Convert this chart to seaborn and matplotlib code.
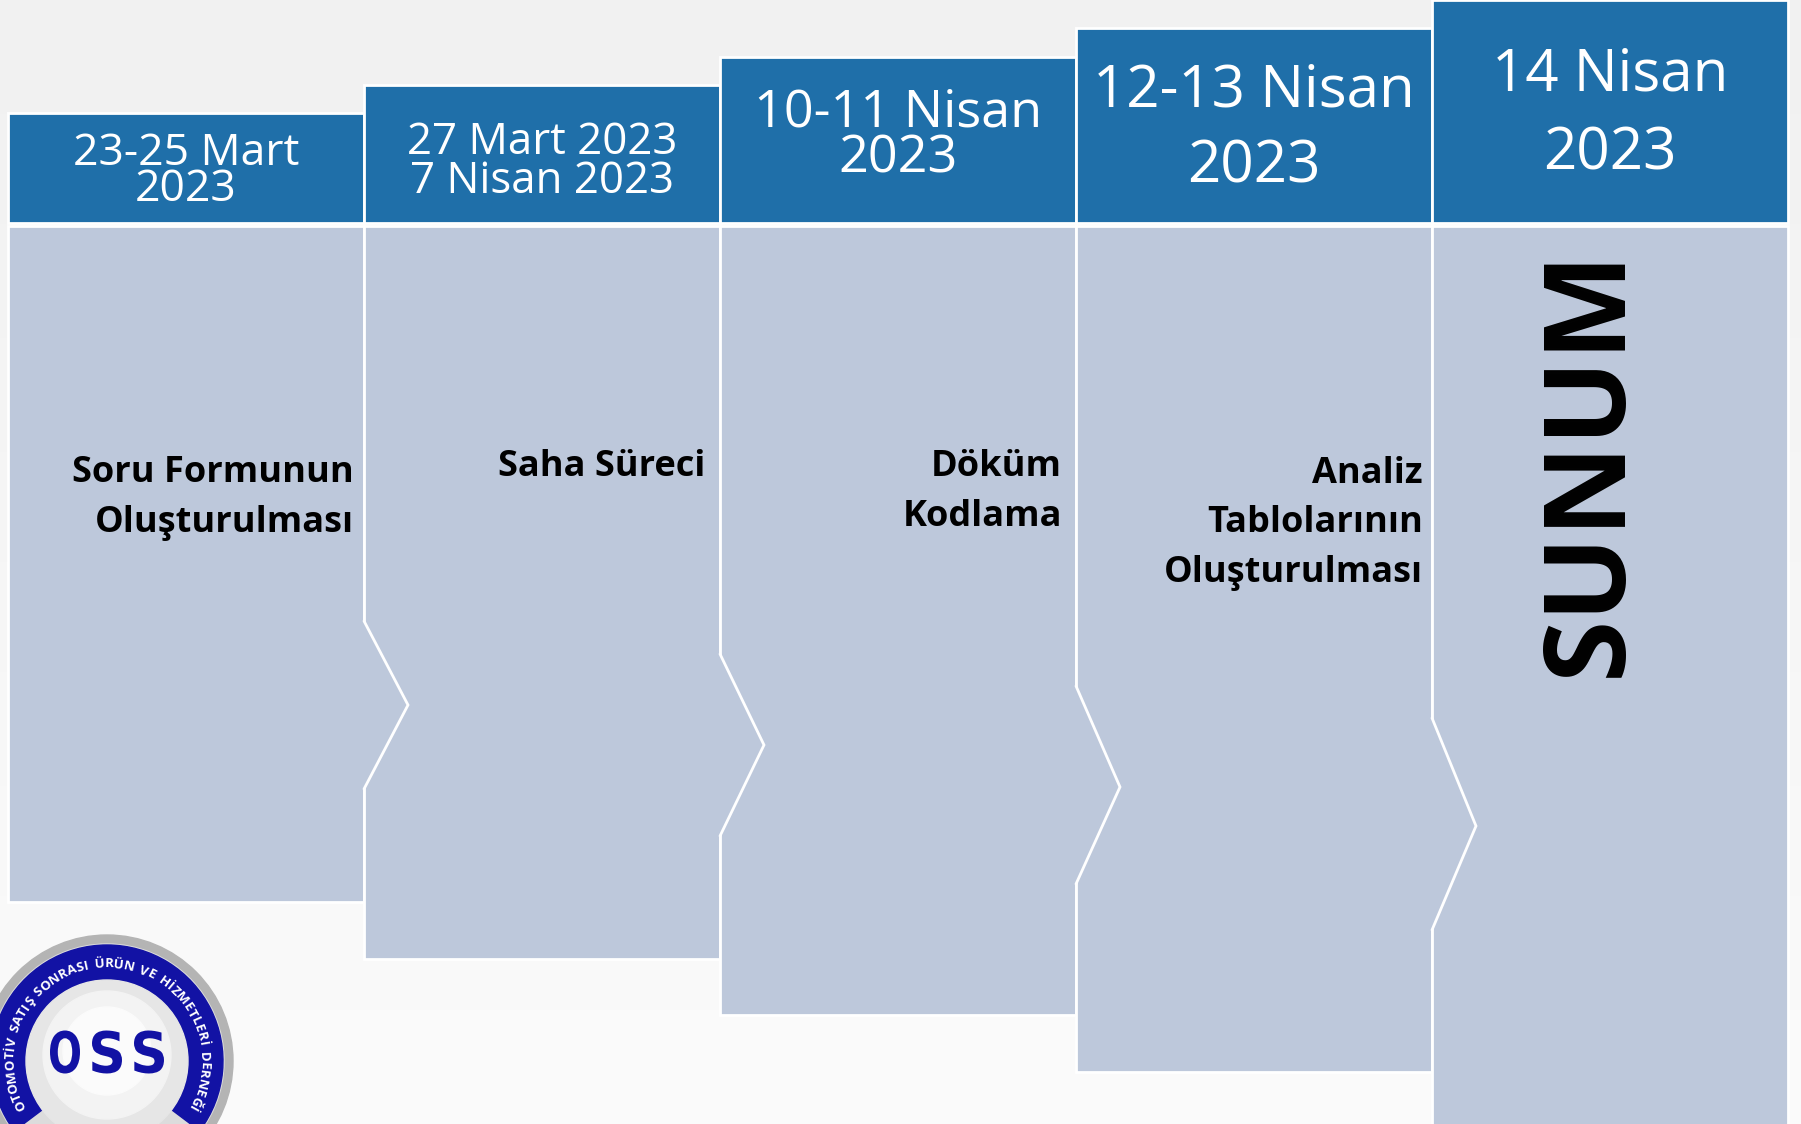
import numpy as np
import matplotlib
matplotlib.use("Agg")
import matplotlib.pyplot as plt
import seaborn as sns
from matplotlib.patches import Circle, Wedge, Polygon, PathPatch
from matplotlib.colors import LinearSegmentedColormap
from matplotlib.textpath import TextPath, TextToPath
from matplotlib.font_manager import FontProperties
from matplotlib.transforms import Affine2D

# Timeline content
dates = ["23-25 Mart\n2023", "27 Mart 2023\n7 Nisan 2023", "10-11 Nisan\n2023",
         "12-13 Nisan\n2023", "14 Nisan\n2023"]
tasks = ["Soru Formunun\nOluşturulması", "Saha Süreci", "Döküm\nKodlama",
         "Analiz\nTablolarının\nOluşturulması", "SUNUM"]
stage = np.arange(len(dates))
logo_ring_text = "OTOMOTİV SATIŞ SONRASI ÜRÜN VE HİZMETLERİ DERNEĞİ"
logo_title = "OSS"

sns.set_theme(style="white")
plt.rcParams["font.family"] = ["Open Sans", "DejaVu Sans"]

HEADER = "#1f6fa9"
BODY = "#bdc8db"
NAVY = "#1212a4"

# layout (pixels)
W, H = 1801, 1124
X0, COL_W = 8, 356
header_top = 113 - 28.25 * stage
HEADER_BOTTOM = 223
BODY_TOP = 226
body_bottom = 902 + 56.5 * stage
notch_top = [621, 654, 686, 718]
notch_tip = [705, 745, 787, 826]
notch_bottom = [789, 836, 884, 930]
TIP_DEPTH = 44
PT = 100 / 72


def px(x):
    return (x - X0) / COL_W


def spacing(gap_px, size_pt):
    # matplotlib line spacing giving a baseline-to-baseline gap in pixels
    em = size_pt * PT
    return (gap_px / em - 0.24) / 0.76


fig = plt.figure(figsize=(W / 100, H / 100), dpi=100)
ax = fig.add_axes([0, 0, 1, 1])
ax.set_xlim(px(0), px(W))
ax.set_ylim(H, 0)
ax.axis("off")

# soft grey background
bg = LinearSegmentedColormap.from_list("bg", ["#f1f1f1", "#fbfbfb"])
grad = np.linspace(0, 1, 256).reshape(-1, 1)
ax.imshow(grad, cmap=bg, extent=[px(0), px(W), H, 0], aspect="auto", zorder=0)

# header and body columns
ax.bar(stage, HEADER_BOTTOM - header_top, bottom=header_top, width=1, align="edge",
       color=HEADER, edgecolor="white", linewidth=2, zorder=2)
ax.bar(stage, body_bottom - BODY_TOP, bottom=BODY_TOP, width=1, align="edge",
       color=BODY, edgecolor="white", linewidth=2, zorder=2)

# chevron joints between stages
for i in range(1, len(stage)):
    yt, yc, yb = notch_top[i - 1], notch_tip[i - 1], notch_bottom[i - 1]
    poly = Polygon([(i - 4 / COL_W, yt), (i, yt), (i + TIP_DEPTH / COL_W, yc),
                    (i, yb), (i - 4 / COL_W, yb)], closed=True,
                   facecolor=BODY, edgecolor="none", zorder=3)
    ax.add_patch(poly)
    ax.plot([i, i + TIP_DEPTH / COL_W, i], [yt, yc, yb], color="white", lw=2,
            solid_joinstyle="miter", zorder=4)

# header labels (baseline alignment anchors the last line)
head_size = [32, 31.5, 37.5, 42, 42]
head_y = [149, 139, 107, 86, 70]
head_gap = [36, 38, 47, 76, 79]
for i, label in enumerate(dates):
    cap = 0.714 * head_size[i] * PT
    n = label.count("\n")
    ax.text(i + 0.5, head_y[i] + cap / 2 + n * head_gap[i], label, ha="center",
            va="baseline", multialignment="center", color="white",
            fontsize=head_size[i],
            linespacing=spacing(head_gap[i], head_size[i]), zorder=5)

# task labels
task_right = [354, 705, 1062, 1423]
task_y = [469, 463, 463, 469]
body_size = 26
body_gap = 50
cap = 0.714 * body_size * PT
for i, label in enumerate(tasks[:4]):
    n = label.count("\n")
    ax.text(px(task_right[i]), task_y[i] + cap / 2 + n * body_gap, label,
            ha="right", va="baseline", multialignment="right", color="black",
            fontsize=body_size, fontweight="bold",
            linespacing=spacing(body_gap, body_size), zorder=5)
ax.text(px(1591), 462, tasks[4], rotation=90, ha="center", va="center",
        color="black", fontsize=81, fontweight="bold", zorder=5)

# association logo, bottom left
CX, CY, R = 107, 1061, 130
lax = fig.add_axes([(CX - R) / W, (H - CY - R) / H, 2 * R / W, 2 * R / H])
lax.set_xlim(-R, R)
lax.set_ylim(-R, R)
lax.set_aspect("equal")
lax.axis("off")
lax.add_patch(Circle((0, 0), 126, color="#b4b4b4", zorder=1))
lax.add_patch(Circle((0, 0), 117, color="#dcdcdc", zorder=2))
lax.add_patch(Wedge((0, 0), 116, -37, 217, width=35, color=NAVY, zorder=3))
lax.add_patch(Circle((0, 0), 81, color="#e6e6e6", zorder=4))
lax.add_patch(Circle((0, 6), 64, color="#f3f3f3", zorder=4))
lax.add_patch(Circle((0, 10), 44, color="#fbfbfb", zorder=4))

# condensed "OSS" letters
fp_logo = FontProperties(family="DejaVu Sans", weight="bold")
for k, ch in enumerate(logo_title):
    tp = TextPath((0, 0), ch, size=60, prop=fp_logo)
    ext = tp.get_extents()
    tr = (Affine2D().translate(-ext.x0 - ext.width / 2, -ext.y0 - ext.height / 2)
          .scale(30 / ext.width, 43 / ext.height).translate(-42 + 42 * k, 9))
    lax.add_patch(PathPatch(tr.transform_path(tp), facecolor=NAVY,
                            edgecolor="none", zorder=5))

# ring text laid out along the arc with proportional spacing
ring_size = 9.5
fp_ring = FontProperties(family=["Open Sans", "DejaVu Sans"], weight="bold",
                         size=ring_size)
t2p = TextToPath()
widths = []
for ch in logo_ring_text:
    if ch == " ":
        widths.append(0.45 * ring_size * PT)
    else:
        w, _, _ = t2p.get_text_width_height_descent(ch, fp_ring, ismath=False)
        widths.append(w * PT + 1.5)
widths = np.array(widths)
r_txt = 97
ARC_START, ARC_END = 207, -29
pos = np.cumsum(widths) - widths / 2
ang = ARC_START - (pos - pos[0]) / (pos[-1] - pos[0]) * (ARC_START - ARC_END)
for ch, a in zip(logo_ring_text, ang):
    t = np.deg2rad(a)
    lax.text(r_txt * np.cos(t), r_txt * np.sin(t), ch, rotation=a - 90,
             rotation_mode="anchor", ha="center", va="center", color="white",
             fontsize=ring_size, fontweight="bold", zorder=6)

fig.savefig("out.png", dpi=100)
